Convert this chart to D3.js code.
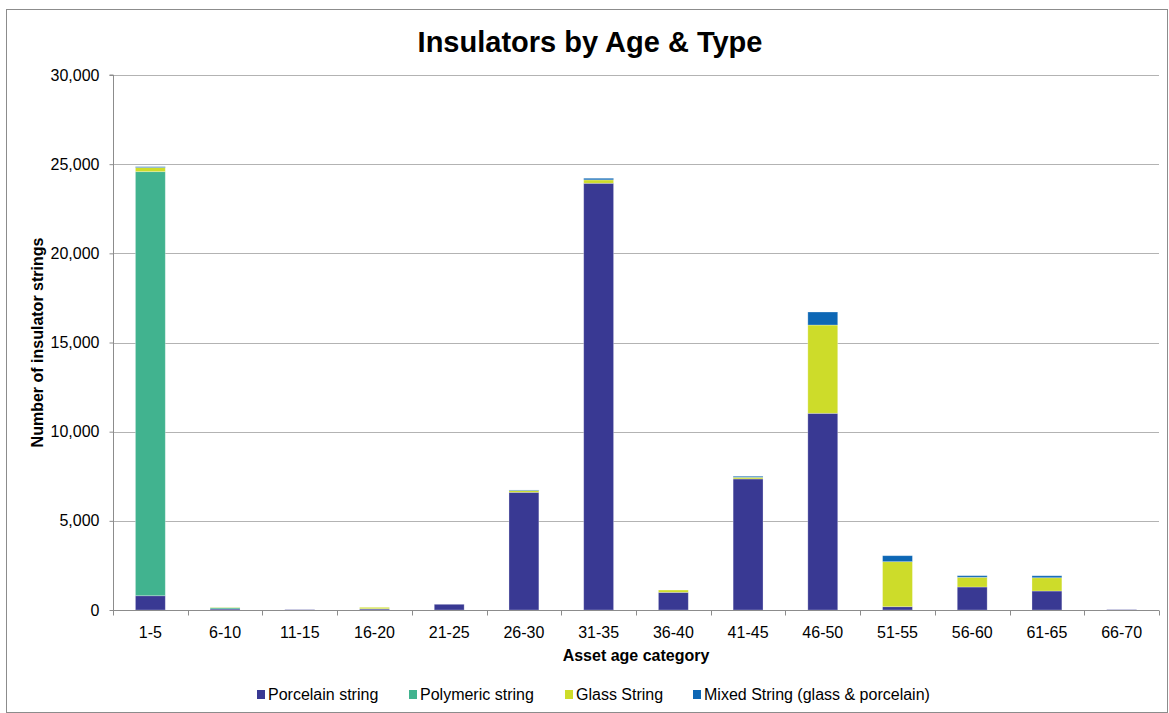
<!DOCTYPE html>
<html>
<head>
<meta charset="utf-8">
<script src="https://cdn.jsdelivr.net/npm/d3@7"></script>
<style>
  html, body { margin: 0; padding: 0; background: #fff; }
  svg { display: block; font-family: "Liberation Sans", Arial, sans-serif; }
</style>
</head>
<body>
<svg id="chart" width="1169" height="713"></svg>
<script>
// Age bands of the insulator population
const categories = ["1-5","6-10","11-15","16-20","21-25","26-30","31-35","36-40","41-45","46-50","51-55","56-60","61-65","66-70"];

// Number of insulator strings per type, per age band
const porcelain = [800, 60, 20, 60, 320, 6600, 23930, 990, 7350, 11030, 185, 1290, 1065, 20];
const polymeric = [23780, 70, 0, 10, 0, 0, 0, 0, 0, 0, 0, 0, 0, 0];
const glass     = [230, 20, 0, 80, 0, 100, 190, 130, 90, 4950, 2525, 545, 745, 0];
const mixed     = [50, 0, 0, 0, 0, 30, 90, 0, 60, 730, 335, 90, 110, 0];

const seriesNames = ["Porcelain string", "Polymeric string", "Glass String", "Mixed String (glass & porcelain)"];
const seriesColors = ["#393993", "#41b38f", "#cddc2a", "#0d67b5"];
const yTicks = [0, 5000, 10000, 15000, 20000, 25000, 30000];

const rows = categories.map((c, i) => ({
  cat: c,
  [seriesNames[0]]: porcelain[i],
  [seriesNames[1]]: polymeric[i],
  [seriesNames[2]]: glass[i],
  [seriesNames[3]]: mixed[i]
}));

const svg = d3.select("#chart");
const W = 1169, H = 713;
const m = { left: 113, right: 10, top: 75, bottom: 103 };
const FONT = "Liberation Sans, Arial, sans-serif";

// outer chart frame
svg.append("rect")
  .attr("x", 6.5).attr("y", 9.5)
  .attr("width", W - 8).attr("height", H - 10)
  .attr("fill", "#fff").attr("stroke", "#8c8c8c").attr("stroke-width", 1);

const x = d3.scaleBand().domain(categories).range([m.left, W - m.right]).paddingInner(0.6).paddingOuter(0.3);
const y = d3.scaleLinear().domain([0, 30000]).range([H - m.bottom, m.top]);

// horizontal gridlines
svg.append("g")
  .selectAll("line")
  .data(yTicks.filter(t => t > 0))
  .join("line")
  .attr("x1", m.left).attr("x2", W - m.right)
  .attr("y1", d => Math.round(y(d)) + 0.5).attr("y2", d => Math.round(y(d)) + 0.5)
  .attr("stroke", "#b3b3b3").attr("stroke-width", 1);

// stacked bars
const stack = d3.stack().keys(seriesNames);
const layers = stack(rows);
svg.append("g")
  .selectAll("g")
  .data(layers)
  .join("g")
  .attr("fill", (d, i) => seriesColors[i])
  .selectAll("rect")
  .data(d => d.filter(p => p[1] - p[0] > 0))
  .join("rect")
  .attr("x", d => x(d.data.cat))
  .attr("width", x.bandwidth())
  .attr("y", d => y(d[1]))
  .attr("height", d => y(d[0]) - y(d[1]))
  .attr("stroke", "rgba(255,255,255,0.35)")
  .attr("stroke-width", 0.8);

// y axis
const yAxis = d3.axisLeft(y).tickValues(yTicks).tickSize(4).tickPadding(10)
  .tickFormat(d3.format(","));
const gy = svg.append("g").attr("transform", `translate(${m.left + 0.5},0)`).call(yAxis);
gy.select(".domain").attr("stroke", "#8c8c8c").attr("d", `M-4,${y(30000)}H0V${y(0)}`);
gy.selectAll(".tick line").attr("stroke", "#8c8c8c");
gy.selectAll(".tick text").attr("font-size", 16).attr("fill", "#000").attr("font-family", FONT);

// x axis with ticks between categories
const xAxis = d3.axisBottom(x).tickSize(0).tickPadding(16);
const gx = svg.append("g").attr("transform", `translate(0,${Math.round(y(0)) + 0.5})`).call(xAxis);
gx.select(".domain").attr("stroke", "#8c8c8c").attr("d", `M${m.left},0H${W - m.right}`);
gx.selectAll(".tick text").attr("font-size", 16).attr("fill", "#000").attr("font-family", FONT);
gx.append("g").selectAll("line")
  .data(d3.range(categories.length + 1))
  .join("line")
  .attr("x1", i => Math.round(m.left + i * (W - m.right - m.left) / categories.length) + 0.5)
  .attr("x2", i => Math.round(m.left + i * (W - m.right - m.left) / categories.length) + 0.5)
  .attr("y1", 0).attr("y2", 5)
  .attr("stroke", "#8c8c8c");

// titles
svg.append("text")
  .attr("x", 590).attr("y", 52)
  .attr("text-anchor", "middle")
  .attr("font-size", 29).attr("font-weight", "bold")
  .text("Insulators by Age & Type");

svg.append("text")
  .attr("x", 636).attr("y", 661)
  .attr("text-anchor", "middle")
  .attr("font-size", 16).attr("font-weight", "bold")
  .text("Asset age category");

svg.append("text")
  .attr("transform", `translate(43,${(y(0) + y(30000)) / 2}) rotate(-90)`)
  .attr("text-anchor", "middle")
  .attr("font-size", 16).attr("font-weight", "bold")
  .text("Number of insulator strings");

// legend
const legendX = [257, 409, 565, 693];
const lg = svg.append("g").selectAll("g")
  .data(seriesNames)
  .join("g")
  .attr("transform", (d, i) => `translate(${legendX[i]},690)`);
lg.append("rect").attr("x", 0).attr("y", 0).attr("width", 8).attr("height", 9)
  .attr("fill", (d, i) => seriesColors[i]);
lg.append("text").attr("x", 11).attr("y", 10)
  .attr("font-size", 16)
  .text(d => d);
</script>
</body>
</html>
